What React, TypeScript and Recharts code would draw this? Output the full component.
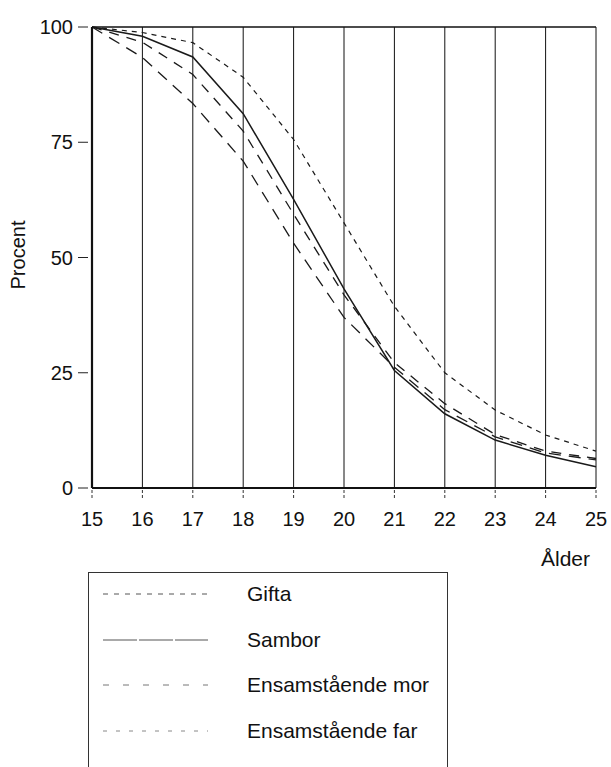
import React from 'react';
import { LineChart, Line, XAxis, YAxis, CartesianGrid, ReferenceLine, Legend, Label } from 'recharts';

const ages = [15, 16, 17, 18, 19, 20, 21, 22, 23, 24, 25];
const gifta = [100, 98.8, 96.6, 89.1, 75.6, 57.5, 39.4, 25, 16.9, 11.5, 8];
const sambor = [100, 98, 93.5, 81.2, 62.6, 43.2, 25.5, 16.1, 10.4, 7.1, 4.6];
const ensamMor = [100, 96.7, 89.7, 77.4, 59.4, 41.9, 27.2, 18.3, 11.6, 8, 6.4];
const ensamFar = [100, 93.4, 83.4, 70.9, 53.1, 37, 26.2, 17, 11.1, 7.6, 6.1];
const yTicks = [0, 25, 50, 75, 100];
const xTicks = ages;

const data = ages.map((a, i) => ({
  age: a,
  gifta: gifta[i],
  sambor: sambor[i],
  mor: ensamMor[i],
  far: ensamFar[i],
}));

const series = [
  { key: 'gifta', name: 'Gifta', dash: '5 5', width: 1.2, legendDash: '5 6', legendColor: '#555' },
  { key: 'sambor', name: 'Sambor', dash: undefined, width: 1.5, legendDash: '34 2', legendColor: '#555' },
  { key: 'mor', name: 'Ensamstående mor', dash: '10 8', width: 1.3, legendDash: '6 14', legendColor: '#777' },
  { key: 'far', name: 'Ensamstående far', dash: '12 8', width: 1.3, legendDash: '4 9', legendColor: '#888' },
];

const FONT = '"Liberation Sans", Arial, Helvetica, sans-serif';

const YTick = (props: any) => {
  const { x, y, payload } = props;
  return (
    <g>
      <line x1={x - 14} x2={x - 4} y1={y} y2={y} stroke="#222" strokeWidth={1} />
      <text x={x - 19} y={y} dy="0.36em" textAnchor="end" fontSize={20} fontFamily={FONT} fill="#111">
        {payload.value}
      </text>
    </g>
  );
};

const XTick = (props: any) => {
  const { x, y, payload } = props;
  return (
    <g>
      <line x1={x} x2={x} y1={y + 2} y2={y + 12} stroke="#333" strokeWidth={1} strokeDasharray="3 2" />
      <text x={x} y={y + 31} dy="0.36em" textAnchor="middle" fontSize={20} fontFamily={FONT} fill="#111">
        {payload.value}
      </text>
    </g>
  );
};

const renderLegend = () => (
  <div
    style={{
      width: 360,
      height: 210,
      border: '1.3px solid #333',
      borderBottom: 'none',
      boxSizing: 'border-box',
      position: 'relative',
      fontFamily: FONT,
    }}
  >
    {series.map((s, i) => (
      <div key={s.key} style={{ position: 'absolute', left: 0, top: 21 + i * 45.7 - 12, height: 24, width: 360 }}>
        <svg width={130} height={24} style={{ position: 'absolute', left: 0, top: 0 }}>
          <line x1={14} x2={119} y1={12} y2={12} stroke={s.legendColor} strokeWidth={1} strokeDasharray={s.legendDash} />
        </svg>
        <span style={{ position: 'absolute', left: 158, top: 0, fontSize: 21, lineHeight: '24px', color: '#111' }}>
          {s.name}
        </span>
      </div>
    ))}
  </div>
);

export default function App() {
  return (
    <div style={{ position: 'absolute', left: 0, top: 0, width: 611, height: 767, background: '#fff' }}>
      <LineChart width={611} height={767} data={data} margin={{ top: 27, right: 15, bottom: 239, left: 0 }}>
        <CartesianGrid horizontal={false} vertical={true} stroke="#111" strokeWidth={1} />
        <XAxis
          dataKey="age"
          type="number"
          domain={[15, 25]}
          ticks={xTicks}
          interval={0}
          height={40}
          tickSize={0}
          tickMargin={0}
          tickLine={false}
          axisLine={{ stroke: '#111', strokeWidth: 2.2 }}
          tick={<XTick />}
        >
          <Label
            content={() => (
              <text x={590} y={558} dy="0.36em" textAnchor="end" fontSize={21} fontFamily={FONT} fill="#111">
                Ålder
              </text>
            )}
          />
        </XAxis>
        <YAxis
          type="number"
          domain={[0, 100]}
          ticks={yTicks}
          width={92}
          tickSize={0}
          tickMargin={0}
          tickLine={false}
          axisLine={{ stroke: '#111', strokeWidth: 2.2 }}
          tick={<YTick />}
        >
          <Label
            content={() => (
              <text
                x={18}
                y={255}
                dy="0.36em"
                textAnchor="middle"
                fontSize={20}
                fontFamily={FONT}
                fill="#111"
                transform="rotate(-90 18 255)"
              >
                Procent
              </text>
            )}
          />
        </YAxis>
        <ReferenceLine y={100} stroke="#111" strokeWidth={1.5} />
        {series.map((s) => (
          <Line
            key={s.key}
            dataKey={s.key}
            name={s.name}
            type="linear"
            stroke="#1a1a1a"
            strokeWidth={s.width}
            strokeDasharray={s.dash}
            dot={false}
            activeDot={false}
            isAnimationActive={false}
          />
        ))}
        <Legend
          layout="horizontal"
          verticalAlign="middle"
          align="center"
          content={renderLegend}
          wrapperStyle={{ left: 88, top: 572, width: 360, height: 210 }}
        />
      </LineChart>
    </div>
  );
}
